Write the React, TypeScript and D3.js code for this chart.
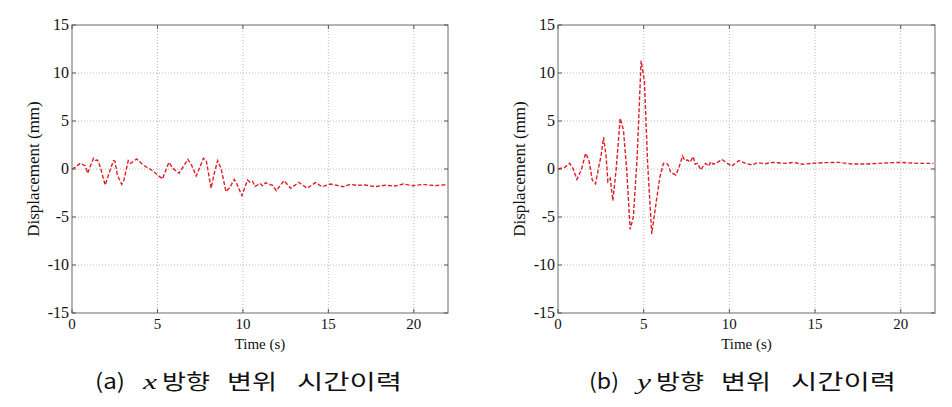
import React from "react";
import * as d3 from "d3";

const timeA = [0, 0.25, 0.48, 0.77, 0.91, 1.06, 1.26, 1.38, 1.49, 1.65, 1.94, 2.17, 2.42, 2.52, 2.65, 2.91, 3.04, 3.29, 3.43, 3.78, 4.16, 4.65, 4.94, 5.29, 5.67, 5.9, 6.26, 6.78, 7.01, 7.27, 7.69, 7.85, 8.14, 8.3, 8.52, 8.72, 9.01, 9.24, 9.49, 9.63, 9.94, 10.27, 10.4, 10.56, 10.7, 10.85, 11.0, 11.15, 11.33, 11.5, 11.72, 11.95, 12.4, 12.79, 13.27, 13.76, 14.24, 14.63, 15.12, 15.6, 15.9, 16.28, 16.67, 17.15, 17.73, 18.31, 18.9, 19.38, 19.96, 20.54, 21.22, 21.9];
const dispA = [0, 0.25, 0.59, 0.35, -0.45, 0.24, 1.11, 0.9, 0.94, 0.24, -1.67, -0.45, 0.87, 0.8, -0.62, -1.6, -1.15, 0.87, 0.59, 1.04, 0.42, -0.1, -0.52, -1.04, 0.69, 0.07, -0.45, 1.01, 0.35, -0.73, 1.11, 0.94, -2.01, -0.6, 0.87, 0.07, -2.36, -1.91, -1.08, -1.49, -2.78, -1.15, -1.35, -1.25, -1.8, -1.67, -1.5, -1.75, -1.42, -1.6, -1.67, -2.26, -1.22, -2.01, -1.39, -2.01, -1.42, -1.84, -1.56, -1.74, -1.84, -1.6, -1.7, -1.67, -1.84, -1.7, -1.77, -1.56, -1.74, -1.6, -1.74, -1.63];

const timeB = [0, 0.39, 0.68, 0.87, 1.1, 1.36, 1.61, 1.8, 2.0, 2.19, 2.38, 2.52, 2.66, 2.81, 2.91, 3.05, 3.2, 3.39, 3.63, 3.82, 4.01, 4.21, 4.4, 4.62, 4.85, 5.04, 5.23, 5.47, 5.72, 5.95, 6.15, 6.4, 6.59, 6.75, 6.88, 7.04, 7.27, 7.4, 7.56, 7.7, 7.89, 8.0, 8.14, 8.34, 8.5, 8.63, 8.78, 8.92, 9.05, 9.21, 9.4, 9.56, 9.88, 10.14, 10.56, 10.95, 11.34, 11.63, 12.1, 12.5, 13.28, 13.76, 14.25, 14.83, 15.6, 16.38, 17.15, 17.93, 18.7, 19.87, 21.03, 21.9];
const dispB = [0, 0.17, 0.59, 0.07, -1.08, -0.1, 1.63, 0.94, -1.15, -1.56, 0.24, 1.46, 3.3, 1.28, -1.32, -0.97, -3.3, -0.1, 5.28, 4.06, -0.1, -6.28, -4.97, 1.28, 11.28, 9.27, 0.59, -6.77, -3.58, -0.8, 0.59, 0.52, -0.38, -0.5, -0.62, 0.07, 1.35, 0.9, 0.94, 0.7, 1.28, 0.5, 0.59, -0.1, 0.4, 0.59, 0.3, 0.76, 0.5, 0.59, 0.8, 1.0, 0.59, 0.31, 0.87, 0.59, 0.42, 0.66, 0.55, 0.69, 0.59, 0.69, 0.49, 0.59, 0.66, 0.69, 0.52, 0.52, 0.59, 0.69, 0.59, 0.59];

const xTicks = [0, 5, 10, 15, 20];
const yTicks = [-15, -10, -5, 0, 5, 10, 15];

const panels = [
  { left: 72, right: 448, t: timeA, d: dispA, label: "(a)", axisVar: "x", capX: 95, ylabX: 39 },
  { left: 558, right: 935, t: timeB, d: dispB, label: "(b)", axisVar: "y", capX: 589, ylabX: 525 },
];

const TOP = 25;
const BOTTOM = 313;
const serif = "'Liberation Serif', 'Times New Roman', serif";
const sans = "'Noto Sans CJK KR', 'Noto Sans', sans-serif";

function Panel({ p }: { p: any }) {
  const x = d3.scaleLinear().domain([0, 22]).range([p.left, p.right]);
  const y = d3.scaleLinear().domain([-15, 15]).range([BOTTOM, TOP]);
  const line = d3.line<number>().x((_, i) => x(p.t[i])).y((v) => y(v));

  const words = [
    { s: p.label, dx: 0, w: 30, font: sans, italic: false },
    { s: p.axisVar, dx: 48, w: 14, font: serif, italic: true },
    { s: "방향", dx: 67, w: 48, font: sans, italic: false },
    { s: "변위", dx: 132, w: 50, font: sans, italic: false },
    { s: "시간이력", dx: 202, w: 105, font: sans, italic: false },
  ];

  return (
    <g>
      {/* grid */}
      {xTicks.slice(1).map((t) => (
        <line key={"gx" + t} x1={x(t)} x2={x(t)} y1={TOP} y2={BOTTOM} stroke="#b8b8b8" strokeWidth={1} strokeDasharray="1,2" />
      ))}
      {yTicks.slice(1, -1).map((v) => (
        <line key={"gy" + v} x1={p.left} x2={p.right} y1={y(v)} y2={y(v)} stroke="#b8b8b8" strokeWidth={1} strokeDasharray="1,2" />
      ))}
      {/* box */}
      <rect x={p.left} y={TOP} width={p.right - p.left} height={BOTTOM - TOP} fill="none" stroke="#6a6a6a" strokeWidth={1} />
      {/* ticks */}
      {xTicks.map((t) => (
        <g key={"tx" + t}>
          <line x1={x(t)} x2={x(t)} y1={BOTTOM} y2={BOTTOM - 4} stroke="#555" />
          <line x1={x(t)} x2={x(t)} y1={TOP} y2={TOP + 4} stroke="#555" />
          <text x={x(t)} y={BOTTOM + 16} textAnchor="middle" fontFamily={serif} fontSize={15} fill="#111">{t}</text>
        </g>
      ))}
      {yTicks.map((v) => (
        <g key={"ty" + v}>
          <line x1={p.left} x2={p.left + 4} y1={y(v)} y2={y(v)} stroke="#555" />
          <line x1={p.right} x2={p.right - 4} y1={y(v)} y2={y(v)} stroke="#555" />
          <text x={p.left - 3} y={y(v) + 5} textAnchor="end" fontFamily={serif} fontSize={16} fill="#111">{v}</text>
        </g>
      ))}
      {/* data */}
      <path d={line(p.d) || ""} fill="none" stroke="#dd1f26" strokeWidth={1.4} strokeDasharray="4,2" />
      {/* axis labels */}
      <text x={(p.left + p.right) / 2} y={349} textAnchor="middle" fontFamily={serif} fontSize={15} fill="#111">Time (s)</text>
      <text transform={`translate(${p.ylabX},${(TOP + BOTTOM) / 2}) rotate(-90)`} textAnchor="middle" fontFamily={serif} fontSize={17} fill="#111">Displacement (mm)</text>
      {/* caption */}
      {words.map((w, i) => (
        <text key={i} x={p.capX + w.dx} y={389} fontFamily={w.font} fontStyle={w.italic ? "italic" : "normal"} fontSize={w.italic ? 22 : 21} fill="#111" textLength={w.w} lengthAdjust="spacingAndGlyphs">{w.s}</text>
      ))}
    </g>
  );
}

export default function App() {
  return (
    <svg width={952} height={407} style={{ position: "absolute", left: 0, top: 0, background: "#fff" }}>
      <rect width={952} height={407} fill="#fff" />
      {panels.map((p, i) => <Panel key={i} p={p} />)}
    </svg>
  );
}
